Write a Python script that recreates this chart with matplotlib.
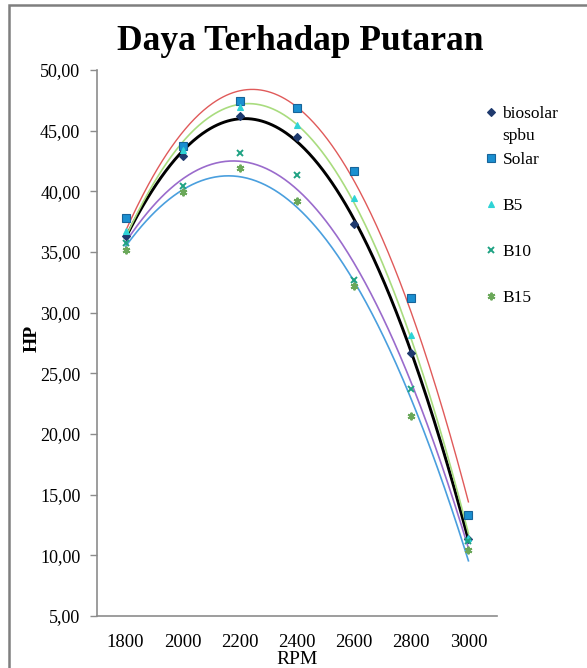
import numpy as np
import matplotlib
matplotlib.use("Agg")
import matplotlib.pyplot as plt
from matplotlib.patches import Rectangle

plt.rcParams['font.family'] = ['Liberation Serif', 'DejaVu Serif']

rpm = [1800, 2000, 2200, 2400, 2600, 2800, 3000]
biosolar_spbu = [36.3, 42.9, 46.2, 44.5, 37.3, 26.7, 11.35]
solar = [37.8, 43.7, 47.45, 46.9, 41.7, 31.25, 13.3]
b5 = [36.7, 43.4, 46.95, 45.5, 39.45, 28.2, 11.4]
b10 = [35.75, 40.45, 43.2, 41.35, 32.7, 23.7, 11.2]
b15 = [35.2, 39.95, 41.95, 39.2, 32.2, 21.5, 10.45]

y_ticks = [5, 10, 15, 20, 25, 30, 35, 40, 45, 50]
title = "Daya Terhadap Putaran"

series = [
    # label, values, marker, marker face, marker edge, size, trend color, trend lw
    ("biosolar", biosolar_spbu, "D", "#1f3a6e", "#1f3a6e", 4.2, "#000000", 2.1),
    ("Solar", solar, "s", "#1b8fd0", "#17649a", 6.3, "#e05a5a", 1.0),
    ("B5", b5, "^", "#2ed3d6", "#2ed3d6", 4.5, "#a9dc7f", 1.2),
    ("B10", b10, "x", "#1fa283", "#1fa283", 5.0, "#9a6bcc", 1.2),
    ("B15", b15, (6, 2, 0), "#6ba85a", "#6ba85a", 5.5, "#4a9fde", 1.2),
]

W, H = 587, 668
fig = plt.figure(figsize=(W / 100, H / 100), dpi=100)
ax = fig.add_axes([97 / W, 1 - 616 / H, 400 / W, 546 / H])

x = np.array(rpm, dtype=float)
xs = np.linspace(x.min(), x.max(), 300)
handles = []
for label, vals, mk, fc, ec, ms, tc, tlw in series:
    coef = np.polyfit(x, np.array(vals), 2)
    ax.plot(xs, np.polyval(coef, xs), color=tc, lw=tlw, zorder=2)
    thick = mk == "x" or isinstance(mk, tuple)
    h, = ax.plot(x, vals, linestyle="none", marker=mk, markerfacecolor=fc,
                 markeredgecolor=ec, markersize=ms,
                 markeredgewidth=1.4 if thick else 0.8,
                 zorder=3, clip_on=False, label=label)
    handles.append(h)

ax.set_xlim(1700, 3100)
ax.set_ylim(5, 50)
ax.set_xticks(rpm)
ax.set_xticklabels([str(r) for r in rpm])
ax.set_yticks(y_ticks)
ax.set_yticklabels([f"{v:.2f}".replace(".", ",") for v in y_ticks])

for s in ("top", "right"):
    ax.spines[s].set_visible(False)
for s in ("left", "bottom"):
    ax.spines[s].set_color("#8c8c8c")
    ax.spines[s].set_linewidth(1.2)
ax.tick_params(axis="y", length=5, width=1, color="#8c8c8c", pad=7, labelsize=13)
ax.tick_params(axis="x", length=0, pad=13, labelsize=13.5)

ax.set_ylabel("HP", fontsize=14, fontweight="bold")
ax.yaxis.set_label_coords(-0.14, 0.509)
ax.set_xlabel("RPM", fontsize=14, labelpad=0)

fig.text(300 / W, 1 - 41 / H, title, fontsize=25.5, fontweight="bold",
         ha="center", va="center")

leg = ax.legend(handles=handles, loc="upper left", bbox_to_anchor=(486 / W, 1 - 106 / H),
                bbox_transform=fig.transFigure, frameon=False, fontsize=12.5,
                handlelength=0.6, handletextpad=0.35, labelspacing=1.72,
                borderpad=0, borderaxespad=0)

# second line of the first legend label
fig.canvas.draw()
bb = leg.get_texts()[0].get_window_extent()
fig.text(bb.x0 / W, (bb.y0 - 22) / H + (bb.y1 - bb.y0) / H, "spbu",
         fontsize=12.5, ha="left", va="top")

fig.add_artist(Rectangle((9 / W, -0.1), 1.2, 1.1 - 5 / H, transform=fig.transFigure,
                         fill=False, edgecolor="#7f7f7f", linewidth=1.8))

fig.savefig("out.png", dpi=100)
